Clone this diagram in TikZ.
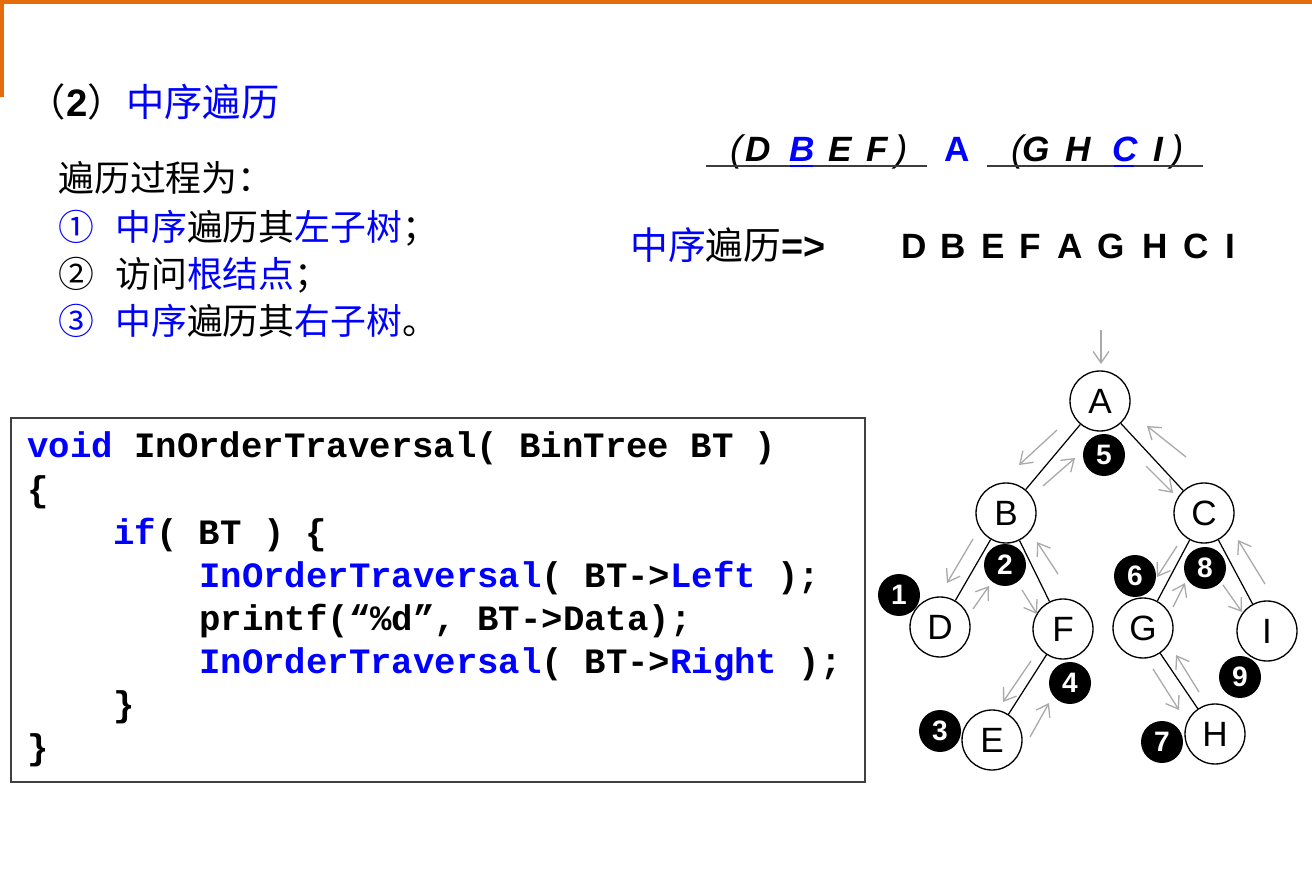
\documentclass[tikz,border=0pt]{standalone}
\usepackage{fontspec}
\setmainfont{Liberation Sans}
\setmonofont{Liberation Mono}
\newfontfamily\cjk{Noto Sans CJK SC}
\usetikzlibrary{arrows.meta}
\definecolor{kwblue}{RGB}{0,0,255}
\definecolor{frameorange}{RGB}{228,108,10}
\definecolor{trailgray}{RGB}{170,170,170}
\definecolor{boxgray}{RGB}{64,64,64}
\definecolor{linegray}{RGB}{60,60,60}
\newcommand{\kw}[1]{\textcolor{kwblue}{#1}}
\tikzset{
  listtext/.style={anchor=base west,inner sep=0,font=\cjk\fontsize{20.4}{24}\selectfont},
  codeline/.style={anchor=base west,inner sep=0,font=\ttfamily\bfseries\fontsize{20.3}{24}\selectfont},
  seqtext/.style={anchor=base,inner sep=0,font=\bfseries\fontsize{20}{20}\selectfont},
  subtext/.style={anchor=base,inner sep=0,font=\bfseries\itshape\fontsize{20}{20}\selectfont},
  paren/.style={anchor=base,inner sep=0,font=\itshape\fontsize{21}{20}\selectfont},
  treenode/.style={circle,draw,fill=white,line width=0.75pt,minimum size=1.2cm,inner sep=0,font=\fontsize{20}{20}\selectfont},
  ball/.style={circle,fill=black,text=white,minimum size=0.84cm,inner sep=0,font=\bfseries\fontsize{16}{16}\selectfont},
  treeedge/.style={line width=0.7pt},
  trail/.style={trailgray,line width=0.75pt,-{Straight Barb[length=6.5pt,width=9pt]}}
}
\begin{document}
\begin{tikzpicture}[x=0.02cm,y=-0.02cm]
\useasboundingbox (0,0) rectangle (1312,888);
\fill[white] (0,0) rectangle (1312,888);

% slide frame
\draw[frameorange,line width=2pt] (0,2) -- (1312,2);
\draw[frameorange,line width=2pt] (2,0) -- (2,97);

% title and steps
\node[inner sep=0,anchor=base east,font=\fontsize{21.8}{24}\selectfont] (tnum) at (126,117) {{\cjk （}{\bfseries 2}{\cjk ）}};
\node[listtext,font=\cjk\fontsize{21.8}{24}\selectfont,text=kwblue] (title) at (126,117) {中序遍历};
\node[listtext] (steps) at (58,192) {遍历过程为：};
\node[listtext,text=kwblue] (n1) at (58,241) {①};
\node[listtext] (step1) at (115,241) {\kw{中序}遍历其\kw{左子树}；};
\node[listtext] (n2) at (58,288) {②};
\node[listtext] (step2) at (115,288) {访问\kw{根结点}；};
\node[listtext,text=kwblue] (n3) at (58,335) {③};
\node[listtext] (step3) at (115,335) {\kw{中序}遍历其\kw{右子树}。};

% split of the sequence
\node[paren] (lpl) at (737,162) {(};
\node[subtext] (sD) at (758,162) {D};
\node[subtext,text=kwblue] (sB) at (802,162) {B};
\node[subtext] (sE) at (840,162) {E};
\node[subtext] (sF) at (877,162) {F};
\node[paren] (lpr) at (902,162) {)};
\node[seqtext,text=kwblue] (sA) at (957,162) {A};
\node[paren] (rpl) at (1018,162) {(};
\node[subtext] (sG) at (1036,162) {G};
\node[subtext] (sH) at (1078,162) {H};
\node[subtext,text=kwblue] (sC) at (1125,162) {C};
\node[subtext] (sI) at (1158,162) {I};
\node[paren] (rpr) at (1178,162) {)};
\draw[linegray,line width=1.1pt] (706,166) -- (927,166);
\draw[linegray,line width=1.1pt] (987,166) -- (1203,166);
\draw[kwblue,line width=1.1pt] (790,166) -- (813,166);
\draw[kwblue,line width=1.1pt] (1114,166) -- (1134,166);

% result
\node[listtext,font=\cjk\fontsize{21.5}{24}\selectfont] (res) at (630,260) {\kw{中序}遍历{\normalfont\bfseries =>}};
\foreach \l/\x in {D/914,B/953,E/993,F/1030,A/1070,G/1111,H/1155,C/1196,I/1230}
	\node[seqtext] (seq\l) at (\x,259) {\l};

% code
\draw[boxgray,line width=1pt] (11,418) rectangle (865,782);
\node[codeline] (c1) at (27,458) {\kw{void} InOrderTraversal( BinTree BT )};
\node[codeline] (c2) at (27,501) {\{};
\node[codeline] (c3) at (113,544) {\kw{if}( BT ) \{};
\node[codeline] (c4) at (199,587) {\kw{InOrderTraversal}( BT->\kw{Left} );};
\node[codeline] (c5) at (199,630) {printf(“\%d”, BT->Data);};
\node[codeline] (c6) at (199,673) {\kw{InOrderTraversal}( BT->\kw{Right} );};
\node[codeline] (c7) at (113,716) {\}};
\node[codeline] (c8) at (27,759) {\}};

% visit order
\foreach \n/\x/\y in {1/899/595,2/1005/565,3/940/731,4/1070/683,5/1104/455,6/1135/576,7/1162/742,8/1205/568,9/1240/677}
	\node[ball] (b\n) at (\x,\y) {\n};

% tree
\foreach \n/\x/\y in {A/1100/401,B/1006/513,C/1204/513,D/940/627,F/1063/629,G/1143/628,I/1267/631,E/992/740,H/1215/734}
	\node[treenode] (\n) at (\x,\y) {\n};
\foreach \a/\b in {A/B,A/C,B/D,B/F,F/E,C/G,C/I,G/H}
	\draw[treeedge] (\a) -- (\b);

% walk around the tree
\foreach \xa/\ya/\xb/\yb in {1101/330/1101/364, 1057/430/1019/465, 1043/486/1075/458, 1146/466/1173/493,
	1186/457/1147/426, 973/539/947/583, 973/609/989/586, 1022/590/1037/614, 1058/574/1037/542,
	1031/661/1003/702, 1030/737/1049/703, 1177/546/1157/577, 1173/607/1185/583, 1223/585/1242/612,
	1265/584/1238/540, 1153/669/1179/710, 1199/692/1176/655}
	\draw[trail] (\xa,\ya) -- (\xb,\yb);
\end{tikzpicture}
\end{document}
